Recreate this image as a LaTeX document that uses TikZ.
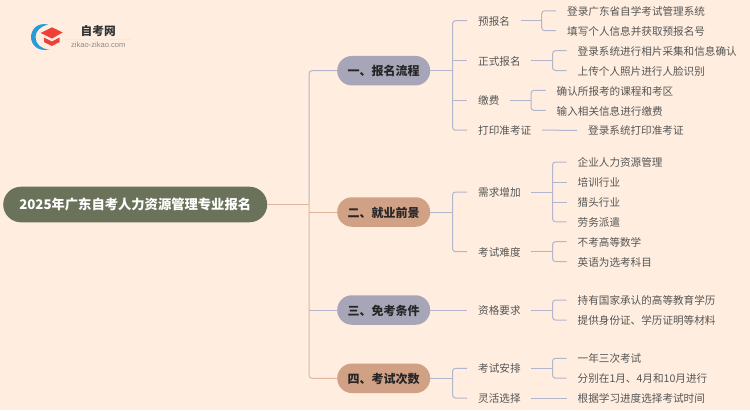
\documentclass[tikz,border=0pt]{standalone}
\usepackage{fontspec}
\setmainfont{Noto Sans CJK SC}
\newfontfamily\latinfont{Liberation Sans}
\definecolor{bgc}{HTML}{FFEEE0}
\definecolor{rootc}{HTML}{6A7359}
\definecolor{graybox}{HTML}{A6A6B8}
\definecolor{tanbox}{HTML}{D1A186}
\definecolor{blueline}{HTML}{B3B5CC}
\definecolor{tanline}{HTML}{E3B49C}
\definecolor{txt}{HTML}{555555}
\definecolor{logoblue}{HTML}{2A9AD6}
\definecolor{logored}{HTML}{EE4035}
\tikzset{
 rootn/.style={fill=rootc,rounded corners=17.8pt,minimum width=264pt,minimum height=35.6pt,text=white,font=\fontsize{13.3}{15}\selectfont\bfseries,inner sep=0pt},
 mainA/.style={fill=graybox,rounded corners=14.7pt,minimum width=93pt,minimum height=29.5pt,text=black!85,font=\fontsize{12}{15}\selectfont\bfseries,inner sep=0pt,text height=10.8pt,text depth=.8pt},
 mainB/.style={mainA,fill=tanbox},
 lev/.style={anchor=west,text=txt,font=\fontsize{10.6}{13}\selectfont,inner sep=0pt,text height=10pt,text depth=.8pt},
 conn/.style={draw=blueline,line width=1pt,rounded corners=3pt},
 tconn/.style={draw=tanline,line width=1pt,rounded corners=3pt},
}
\begin{document}
\begin{tikzpicture}[x=1pt,y=-1pt]
\useasboundingbox (0,0) rectangle (750,410);
\fill[bgc] (0,0) rectangle (750,410);
% logo
\fill[logoblue] (48,24.5) .. controls (36,22) and (31,31) .. (31,37) .. controls (31,44) and (37,52) .. (49,49.5) .. controls (41,49) and (35.5,44) .. (35.5,37) .. controls (35.5,31) and (41,26) .. (48,24.5) -- cycle;
\fill[logored] (40.7,33) -- (52,27.3) -- (62.7,32.5) -- (52,38.5) -- cycle;
\fill[logored] (44,37.5) -- (52,41.5) -- (59.5,37.5) -- (59.5,42) -- (52,46) -- (44,42) -- cycle;
\node[font=\fontsize{11.7}{13}\selectfont\bfseries,text=black!80,inner sep=0pt] (logoA) at (98.2,31) {自考网};
\draw[black!8,line width=.5pt] (65.7,39.3) -- (130.7,39.3);
\node[font=\fontsize{7.6}{9}\latinfont,text=black!45,inner sep=0pt] (logoB) at (98.3,44.7) {zikao-zikao.com};
% nodes
\node[rootn] (root) at (135.2,204.5) {2025年广东自考人力资源管理专业报名};
\node[mainA] (m1) at (383.7,70.7) {一、报名流程};
\node[mainB] (m2) at (383.7,212) {二、就业前景};
\node[mainA] (m3) at (383.7,310) {三、免考条件};
\node[mainB] (m4) at (383.7,378.3) {四、考试次数};
\foreach \n/\x/\y/\t in {
 a1/478/20.7/预报名,a2/478/60.7/正式报名,a3/478/100.3/缴费,a4/478/130.2/打印准考证,
 b1/478/192/需求增加,b2/478/251.7/考试难度,c1/478/310/资格要求,d1/478/368.3/考试安排,d2/478/398/灵活选择,
 p1/567/10.8/登录广东省自学考试管理系统,p2/567/30.7/填写个人信息并获取预报名号,
 p3/577.5/50.7/登录系统进行相片采集和信息确认,p4/577.5/70.5/上传个人照片进行人脸识别,
 p5/556.5/90.4/确认所报考的课程和考区,p6/556.5/110.4/输入相关信息进行缴费,p7/588/130.3/登录系统打印准考证,
 q1/577.5/162/企业人力资源管理,q2/577.5/182/培训行业,q3/577.5/202/猎头行业,q4/577.5/221.8/劳务派遣,
 q5/577.5/241.7/不考高等数学,q6/577.5/261.5/英语为选考科目,
 r1/577.5/300/持有国家承认的高等教育学历,r2/577.5/320/提供身份证、学历证明等材料,
 s1/577.5/358.3/一年三次考试,s2/577.5/378.2/分别在1月、4月和10月进行,s3/577.5/398/根据学习进度选择考试时间}
 {\node[lev] (\n) at (\x,\y) {\t};}
% root connectors
\coordinate (spine) at (309,204.5);
\draw[conn] (m1.west) -- (309,70.7) -- (spine);
\draw[tconn] (root.east) -- (spine);
\draw[tconn] (spine) -- (309,378.3) -- (m4.west);
\draw[tconn] (309,212) -- (m2.west);
\draw[conn] (309,310) -- (m3.west);
% m1
\draw[conn] (m1.east) -- (452.5,70.7);
\draw[conn] ([xshift=-11pt]a1.west) -- (452.5,20.7) -- (452.5,130.2) -- ([xshift=-11pt]a4.west);
\draw[conn] (452.5,60.7) -- ([xshift=-11pt]a2.west);
\draw[conn] (452.5,100.3) -- ([xshift=-11pt]a3.west);
% level 2 to 3
\draw[conn] ([xshift=10.5pt]a1.east) -- (541.7,20.7);
\draw[conn] ([xshift=-11pt]p1.west) -- (541.7,10.8) -- (541.7,30.7) -- ([xshift=-11pt]p2.west);
\draw[conn] ([xshift=10.5pt]a2.east) -- (552.5,60.7);
\draw[conn] ([xshift=-11pt]p3.west) -- (552.5,50.7) -- (552.5,70.5) -- ([xshift=-11pt]p4.west);
\draw[conn] ([xshift=10.5pt]a3.east) -- (531,100.3);
\draw[conn] ([xshift=-11pt]p5.west) -- (531,90.4) -- (531,110.4) -- ([xshift=-11pt]p6.west);
\draw[conn] ([xshift=10.5pt]a4.east) -- ([xshift=-11pt]p7.west);
% m2
\draw[conn] (m2.east) -- (452.5,212);
\draw[conn] ([xshift=-11pt]b1.west) -- (452.5,192) -- (452.5,251.7) -- ([xshift=-11pt]b2.west);
\draw[conn] ([xshift=10.5pt]b1.east) -- (552.5,192);
\draw[conn] ([xshift=-11pt]q1.west) -- (552.5,162) -- (552.5,221.8) -- ([xshift=-11pt]q4.west);
\draw[conn] (552.5,182) -- ([xshift=-11pt]q2.west);
\draw[conn] (552.5,202) -- ([xshift=-11pt]q3.west);
\draw[conn] ([xshift=10.5pt]b2.east) -- (552.5,251.7);
\draw[conn] ([xshift=-11pt]q5.west) -- (552.5,241.7) -- (552.5,261.5) -- ([xshift=-11pt]q6.west);
% m3
\draw[conn] (m3.east) -- ([xshift=-11pt]c1.west);
\draw[conn] ([xshift=10.5pt]c1.east) -- (552.5,310);
\draw[conn] ([xshift=-11pt]r1.west) -- (552.5,300) -- (552.5,320) -- ([xshift=-11pt]r2.west);
% m4
\draw[conn] (m4.east) -- (452.5,378.3);
\draw[conn] ([xshift=-11pt]d1.west) -- (452.5,368.3) -- (452.5,398) -- ([xshift=-11pt]d2.west);
\draw[conn] ([xshift=10.5pt]d1.east) -- (552.5,368.3);
\draw[conn] ([xshift=-11pt]s1.west) -- (552.5,358.3) -- (552.5,378.2) -- ([xshift=-11pt]s2.west);
\draw[conn] ([xshift=10.5pt]d2.east) -- ([xshift=-11pt]s3.west);
\end{tikzpicture}
\end{document}
